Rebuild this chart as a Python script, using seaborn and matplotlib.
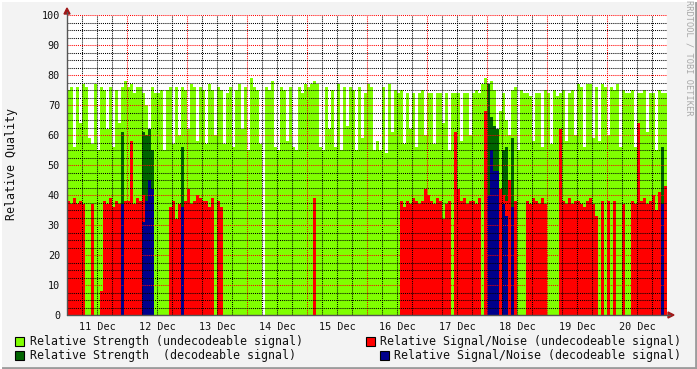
import numpy as np
import pandas as pd
import matplotlib
matplotlib.use("Agg")
import matplotlib.pyplot as plt
import seaborn as sns
from matplotlib.patches import Rectangle, Polygon
from matplotlib.lines import Line2D

# ---------------- data (one value per 72-minute sample, starting 11 Dec 00:00) ----------------
day_labels = ["11 Dec", "12 Dec", "13 Dec", "14 Dec", "15 Dec",
              "16 Dec", "17 Dec", "18 Dec", "19 Dec", "20 Dec"]

nan = float("nan")
# Relative Strength (undecodeable signal)
strength = [
    75, 76, 56, 76, 64, 77, 76, 59, 57, 77,
    55, 76, 75, 62, 76, 56, 75, 64, 76, 78,
    76, 77, 74, 76, 76, 74, 70, 0, 76, 74,
    74, 75, 55, 75, 76, 57, 76, 60, 76, 75,
    62, 77, 76, 58, 76, 75, 57, 77, 75, 60,
    76, 75, 57, 74, 76, 56, 75, 77, 62, 76,
    55, 79, 76, 75, 57, nan, 76, 75, 78, 56,
    55, 76, 75, 58, 76, 56, 55, 76, 74, 77,
    76, 77, 78, 77, 56, 55, 76, 62, 75, 56,
    77, 55, 76, 63, 76, 75, 55, 76, 59, 74,
    77, 76, 55, 58, 55, 76, 54, 77, 61, 75,
    74, 75, 57, 74, 62, 74, 56, 74, 75, 60,
    74, 74, 57, 74, 74, 64, 74, 55, 74, 74,
    74, 58, 74, 74, 60, 74, 75, 74, 77, 79,
    0, 78, 75, 0, 68, 74, 65, 60, 75, 76,
    55, 75, 74, 74, 73, 58, 74, 74, 56, 75,
    74, 57, 75, 73, 74, 75, 58, 74, 75, 60,
    77, 76, 56, 77, 77, 59, 76, 58, 77, 76,
    60, 76, 75, 77, 56, 75, 74, 74, 75, 56,
    74, 74, 75, 61, 74, 74, 55, 75, 74, 74,
]
# Relative Signal/Noise (undecodeable signal)
snr = [
    38, 37, 39, 37, 38, 37, 0, 0, 37, 0,
    0, 8, 38, 37, 39, 36, 38, 37, 0, 38,
    38, 58, 37, 39, 38, 40, 0, 0, 0, 0,
    0, 0, 0, 0, 36, 38, 32, 37, 0, 38,
    42, 37, 38, 40, 39, 38, 38, 36, 39, 0,
    38, 36, 0, 0, 0, 0, 0, 0, 0, 0,
    0, 0, 0, 0, 0, 0, 0, 0, 0, 0,
    0, 0, 0, 0, 0, 0, 0, 0, 0, 0,
    0, 0, 39, 0, 0, 0, 0, 0, 0, 0,
    0, 0, 0, 0, 0, 0, 0, 0, 0, 0,
    0, 0, 0, 0, 0, 0, 0, 0, 0, 0,
    0, 38, 36, 38, 37, 39, 38, 37, 38, 42,
    40, 38, 37, 39, 38, 32, 37, 38, 0, 61,
    42, 38, 39, 37, 38, 38, 37, 39, 0, 68,
    0, 0, 0, 0, 42, 40, 38, 45, 0, 38,
    0, 0, 0, 38, 37, 39, 38, 37, 39, 37,
    0, 0, 0, 0, 62, 38, 37, 39, 37, 38,
    38, 37, 36, 38, 39, 37, 33, 0, 38, 0,
    38, 0, 38, 0, 0, 37, 0, 0, 38, 37,
    64, 38, 39, 37, 38, 40, 35, 41, 0, 43,
]
# samples with a decodeable signal
dec_idx = [18, 25, 26, 27, 28, 38, 140, 141, 142, 143, 145, 146, 148, 198]
dec_strength = [61, 61, 60, 62, 55, 56, 77, 66, 63, 62, 55, 56, 59, 56]
dec_snr = [37, 31, 38, 45, 42, 36, 40, 55, 48, 48, 37, 33, 36, 37]

legend_labels = ["Relative Strength (undecodeable signal)",
                 "Relative Signal/Noise (undecodeable signal)",
                 "Relative Strength  (decodeable signal)",
                 "Relative Signal/Noise (decodeable signal)"]

# ---------------- styling ----------------
LG, DG, RED, BLUE = "#80FF00", "#006400", "#FF0000", "#00008C"
BG = "#F3F3F3"
W, H = 697, 369

sns.set_theme(style="white")
plt.rcParams["font.family"] = ["DejaVu Sans Mono"]

fig = plt.figure(figsize=(W / 100, H / 100), dpi=100, facecolor=BG)
ax = fig.add_axes([67 / W, 1 - 315 / H, 600 / W, 300 / H])
ax.set_facecolor("white")

col_hours = 1.2
t = np.arange(len(strength)) * col_hours + col_hours / 2
df = pd.DataFrame({"t": t, "strength": strength, "snr": snr})
dec = pd.DataFrame({"t": t[dec_idx], "strength": dec_strength, "snr": dec_snr})

common = dict(native_scale=True, width=1, saturation=1, errorbar=None,
              linewidth=0, edgecolor="none", antialiased=False, ax=ax)
sns.barplot(data=df.dropna(subset=["strength"]), x="t", y="strength", color=LG, **common)
sns.barplot(data=dec, x="t", y="strength", color=DG, **common)
sns.barplot(data=df[df.snr > 0], x="t", y="snr", color=RED, **common)
sns.barplot(data=dec, x="t", y="snr", color=BLUE, **common)

ax.set_xlabel("")
ax.set_ylabel("")
ax.set_xlim(0, 240 * 600 / 603)
ax.set_ylim(0, 100)

# ticks / grid
ax.set_xticks(np.arange(0, 241, 24), labels=[""] * 11)
minor_pos, minor_lab = [], []
for d in range(10):
    for h in (6, 12, 18):
        minor_pos.append(d * 24 + h)
        minor_lab.append(day_labels[d] if h == 12 else "")
ax.set_xticks(minor_pos, labels=minor_lab, minor=True)
ax.set_yticks(np.arange(0, 101, 10))
ax.set_yticks(np.arange(0, 100.1, 2.5), minor=True)

ax.set_axisbelow(False)
ax.grid(True, which="major", color=(1, 0, 0, 0.28), linestyle=(0, (1, 1)), linewidth=0.75)
ax.grid(True, which="minor", color=(0, 0, 0, 0.14), linestyle=(0, (1, 1)), linewidth=0.75)

ax.tick_params(axis="both", which="both", direction="out", labelsize=7.3,
               labelcolor="#111111", colors="#555555")
ax.tick_params(axis="y", which="major", length=3, width=0.8, pad=2)
ax.tick_params(axis="y", which="minor", length=2, width=0.6)
ax.tick_params(axis="x", which="major", length=2, width=0.8, color=(1, 0, 0, 0.5))
ax.tick_params(axis="x", which="minor", length=2, width=0.6, pad=3)
for s in ("top", "right", "left", "bottom"):
    ax.spines[s].set_visible(False)

# axes lines with arrows (RRDtool look)
fig.add_artist(Line2D([67 / W, 67 / W], [1 - 315 / H, 1 - 12 / H], color="#555555",
                      linewidth=1, transform=fig.transFigure))
fig.add_artist(Line2D([67 / W, 670 / W], [1 - 315 / H, 1 - 315 / H], color="#555555",
                      linewidth=1, transform=fig.transFigure))
fig.add_artist(Polygon([[64 / W, 1 - 14 / H], [70 / W, 1 - 14 / H], [67 / W, 1 - 8 / H]],
                       closed=True, color="#A01818", transform=fig.transFigure))
fig.add_artist(Polygon([[668 / W, 1 - 312 / H], [668 / W, 1 - 318 / H], [674 / W, 1 - 315 / H]],
                       closed=True, color="#A01818", transform=fig.transFigure))

# y label and watermark
fig.text(12 / W, 1 - 164 / H, "Relative Quality", rotation=90, ha="center", va="center",
         fontsize=8.4, color="#111111")
fig.text(689 / W, 1 - 58 / H, "RRDTOOL / TOBI OETIKER", rotation=270, ha="center", va="center",
         fontsize=6.2, color="#A8A8A8")

# legend
entries = [
    (15, 341, 30, LG, legend_labels[0]),
    (366, 341, 380, RED, legend_labels[1]),
    (15, 355, 30, DG, legend_labels[2]),
    (380, 355, 394, BLUE, legend_labels[3]),
]
for bx, cy, tx, col, lab in entries:
    fig.add_artist(Rectangle((bx / W, 1 - (cy + 4.5) / H), 9 / W, 9 / H, facecolor=col,
                             edgecolor="black", linewidth=0.8, transform=fig.transFigure))
    fig.text(tx / W, 1 - cy / H, lab, ha="left", va="center", fontsize=8.4, color="#111111")

# image frame
fig.add_artist(Line2D([0, 1], [1 - 367.5 / H, 1 - 367.5 / H], color="#9C9C9C", linewidth=2,
                      transform=fig.transFigure))
fig.add_artist(Line2D([695.5 / W, 695.5 / W], [0, 1], color="#9C9C9C", linewidth=2,
                      transform=fig.transFigure))
fig.add_artist(Line2D([0, 1], [1 - 0.5 / H, 1 - 0.5 / H], color="#FFFFFF", linewidth=1.5,
                      transform=fig.transFigure))
fig.add_artist(Line2D([0.5 / W, 0.5 / W], [0, 1], color="#FFFFFF", linewidth=1.5,
                      transform=fig.transFigure))

fig.savefig("out.png", dpi=100, facecolor=BG)
